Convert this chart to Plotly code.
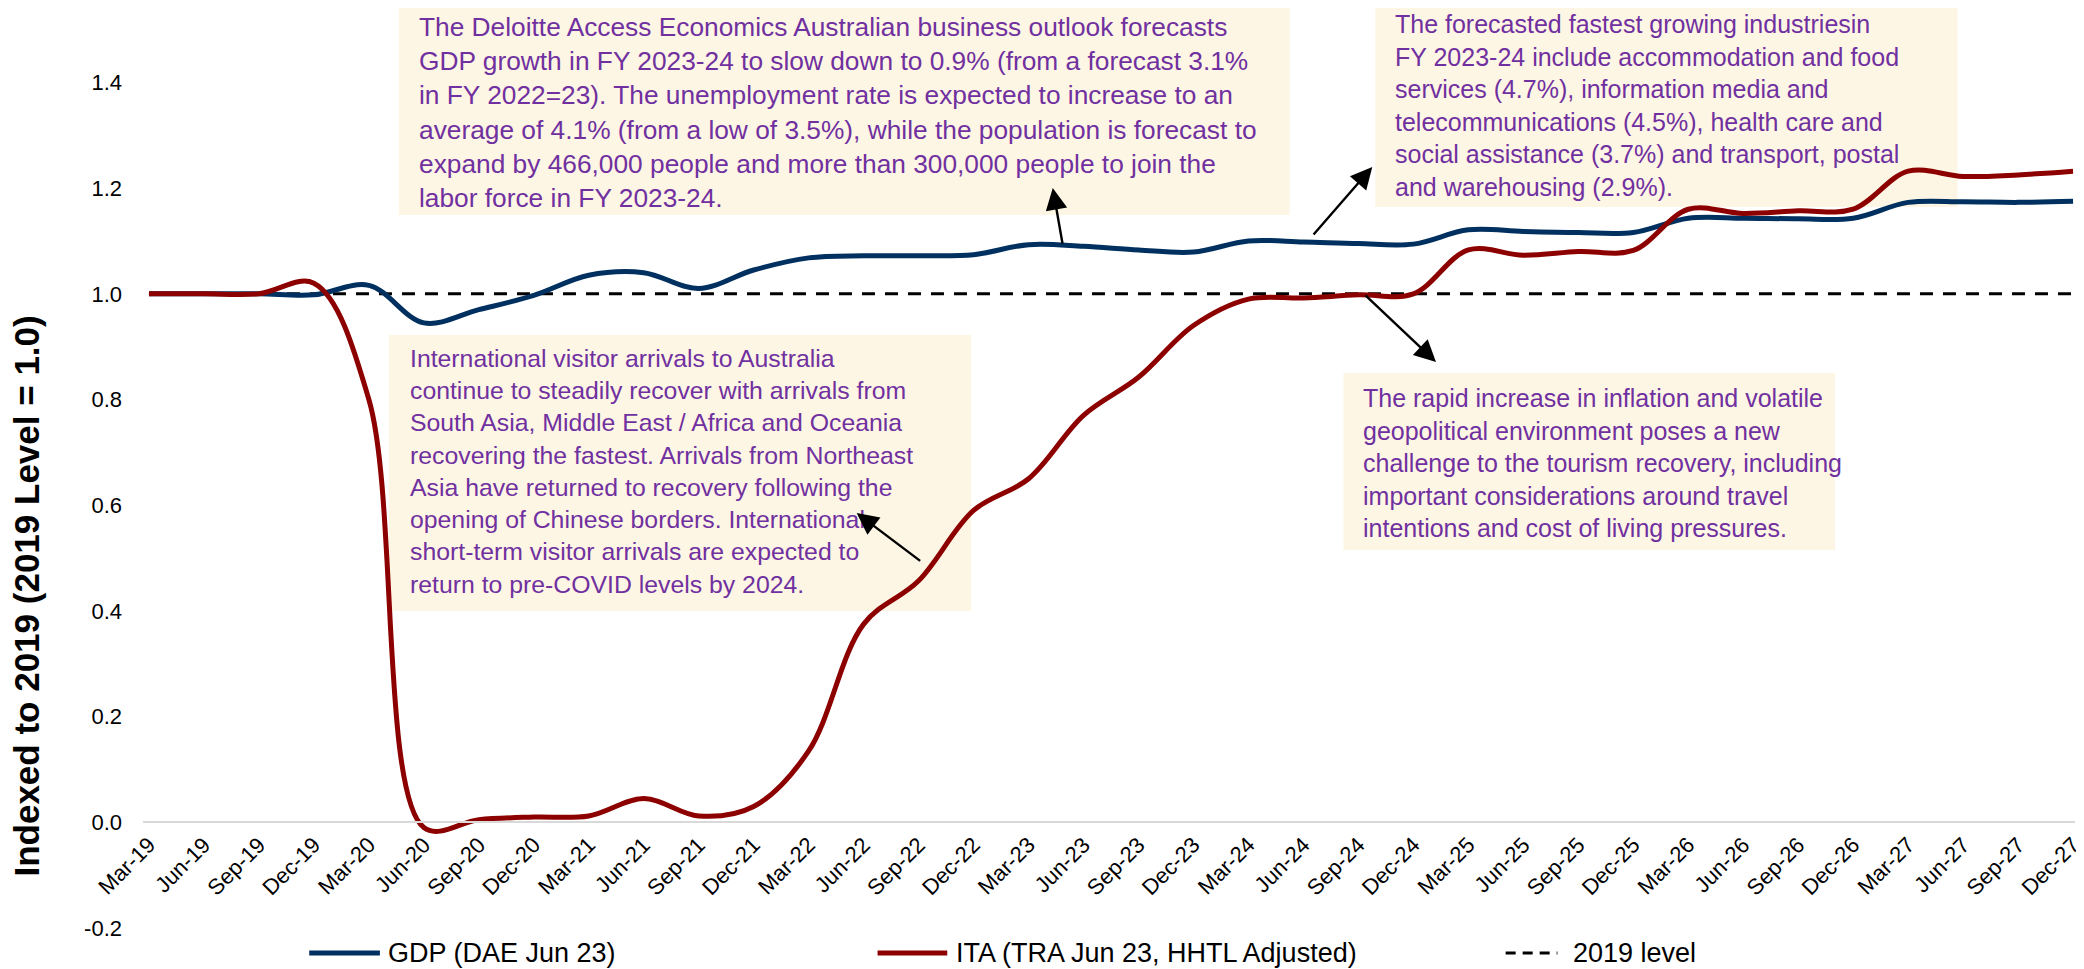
import plotly.graph_objects as go

# ---------------- data ----------------
quarters = ["Mar-19", "Jun-19", "Sep-19", "Dec-19", "Mar-20", "Jun-20", "Sep-20", "Dec-20",
            "Mar-21", "Jun-21", "Sep-21", "Dec-21", "Mar-22", "Jun-22", "Sep-22", "Dec-22",
            "Mar-23", "Jun-23", "Sep-23", "Dec-23", "Mar-24", "Jun-24", "Sep-24", "Dec-24",
            "Mar-25", "Jun-25", "Sep-25", "Dec-25", "Mar-26", "Jun-26", "Sep-26", "Dec-26",
            "Mar-27", "Jun-27", "Sep-27", "Dec-27"]

gdp = [1.000, 1.000, 1.000, 0.998, 1.016, 0.945, 0.970, 0.997,
       1.035, 1.040, 1.010, 1.045, 1.068, 1.072, 1.072, 1.074,
       1.093, 1.090, 1.083, 1.079, 1.100, 1.098, 1.095, 1.094,
       1.121, 1.118, 1.116, 1.116, 1.143, 1.143, 1.142, 1.143,
       1.173, 1.174, 1.173, 1.175]

ita = [1.000, 1.000, 1.000, 1.020, 0.800, -0.010, 0.005, 0.010,
       0.012, 0.045, 0.012, 0.030, 0.135, 0.375, 0.457, 0.590,
       0.650, 0.770, 0.842, 0.940, 0.990, 0.992, 0.998, 1.000,
       1.083, 1.073, 1.080, 1.082, 1.160, 1.152, 1.157, 1.160,
       1.232, 1.222, 1.225, 1.232]

level_2019 = [1.0] * len(quarters)

y_ticks = [-0.2, 0.0, 0.2, 0.4, 0.6, 0.8, 1.0, 1.2, 1.4]

series_names = ["GDP (DAE Jun 23)", "ITA (TRA Jun 23, HHTL Adjusted)", "2019 level"]
y_title = "Indexed to 2019 (2019 Level = 1.0)"

note_top = ("The Deloitte Access Economics Australian business outlook forecasts<br>"
            "GDP growth in FY 2023-24 to slow down to 0.9% (from a forecast 3.1%<br>"
            "in FY 2022=23). The unemployment rate is expected to increase to an<br>"
            "average of 4.1% (from a low of 3.5%), while the population is forecast to<br>"
            "expand by 466,000 people and more than 300,000 people to join the<br>"
            "labor force in FY 2023-24.")
note_top_right = ("The forecasted fastest growing industriesin<br>"
                  "FY 2023-24 include accommodation and food<br>"
                  "services (4.7%), information media and<br>"
                  "telecommunications (4.5%), health care and<br>"
                  "social assistance (3.7%) and transport, postal<br>"
                  "and warehousing (2.9%).")
note_left = ("International visitor arrivals to Australia<br>"
             "continue to steadily recover with arrivals from<br>"
             "South Asia, Middle East / Africa and Oceania<br>"
             "recovering the fastest. Arrivals from Northeast<br>"
             "Asia have returned to recovery following the<br>"
             "opening of Chinese borders. International<br>"
             "short-term visitor arrivals are expected to<br>"
             "return to pre-COVID levels by 2024.")
note_right = ("The rapid increase in inflation and volatile<br>"
              "geopolitical environment poses a new<br>"
              "challenge to the tourism recovery, including<br>"
              "important considerations around travel<br>"
              "intentions and cost of living pressures.")

# ---------------- styling / layout helpers ----------------
OFF = 8                      # page body margin of the browser
W, H = 2084 - OFF, 969 - OFF
L, R, T, B = 135, 0, 0, 41
PW, PH = W - L - R, H - T - B
BLUE = "#00305F"
RED = "#8C0000"
PURPLE = "#7030A0"
CREAM = "#FEF6E4"
BASE_FONT = "Liberation Sans, Arial, sans-serif"

x_idx = list(range(len(quarters)))
px_per_unit = 55.23
x_min = -6 / px_per_unit
x_max = x_min + PW / px_per_unit
y_min = -0.2
px_per_y = (PH - 74.4) / 1.6
y_max = 1.4 + 74.4 / px_per_y


def pxx(sx):
    """screen x pixel -> paper fraction"""
    return (sx - OFF - L) / PW


def pxy(sy):
    """screen y pixel -> paper fraction"""
    return 1 - (sy - OFF - T) / PH


fig = go.Figure()
fig.add_trace(go.Scatter(x=x_idx, y=level_2019, mode="lines", name=series_names[2],
                         line=dict(color="black", width=3, dash="13px,10px"),
                         hoverinfo="skip"))
fig.add_trace(go.Scatter(x=x_idx, y=gdp, mode="lines", name=series_names[0],
                         line=dict(color=BLUE, width=5, shape="spline", smoothing=1.0)))
fig.add_trace(go.Scatter(x=x_idx, y=ita, mode="lines", name=series_names[1],
                         line=dict(color=RED, width=5, shape="spline", smoothing=1.0)))

shapes = []
annotations = []

# note boxes (screen pixel coordinates -> paper)
boxes = [
    (400, 1295, 3, 215, 420, 112.0, note_top, 26.3),
    (1381, 1966, 0, 207, 1401, 106.0, note_top_right, 25.0),
    (390, 975, 335, 611, 411, 471.8, note_left, 24.8),
    (1349, 1843, 373, 550, 1369, 462.5, note_right, 25.0),
]
for x0, x1, y0, y1, tx, ty, txt, fs in boxes:
    shapes.append(dict(type="rect", xref="paper", yref="paper", layer="below",
                       x0=pxx(x0), x1=pxx(x1), y0=pxy(y1), y1=pxy(y0),
                       fillcolor=CREAM, line=dict(width=0)))
    annotations.append(dict(xref="paper", yref="paper", x=pxx(tx), y=pxy(ty),
                            xanchor="left", yanchor="middle", align="left",
                            showarrow=False, text=txt, borderpad=0, borderwidth=0,
                            font=dict(family=BASE_FONT, size=fs, color=PURPLE)))

# arrows: head (hx, hy) in screen px, tail offset (ax, ay) in pixels
arrows = [
    (1057, 188, 10, 57),
    (1378, 167, -60, 69),
    (1442, 362, -72, -68),
    (860, 513, 65, 49),
]
for hx, hy, ax, ay in arrows:
    annotations.append(dict(xref="paper", yref="paper", x=pxx(hx), y=pxy(hy),
                            ax=ax, ay=ay, text="", showarrow=True, arrowhead=2,
                            arrowsize=1.8, arrowwidth=2.4, arrowcolor="black", standoff=0))

# y-axis title
annotations.append(dict(xref="paper", yref="paper", x=pxx(25), y=pxy(596),
                        xanchor="center", yanchor="middle", showarrow=False,
                        text="<b>" + y_title + "</b>", textangle=-90,
                        font=dict(family=BASE_FONT, size=35, color="black")))

# manual legend
legend_items = [
    (310, 381, 387, series_names[0], BLUE, "solid", 5),
    (881, 951, 958, series_names[1], RED, "solid", 5),
    (1512, 1564, 1578, series_names[2], "black", "dash", 3),
]
ly = 953
for lx0, lx1, tx, name, col, dash, wdt in legend_items:
    shapes.append(dict(type="line", xref="paper", yref="paper",
                       x0=pxx(lx0), x1=pxx(lx1), y0=pxy(ly), y1=pxy(ly),
                       line=dict(color=col, width=wdt, dash="10px,7px" if dash == "dash" else "solid")))
    annotations.append(dict(xref="paper", yref="paper", x=pxx(tx), y=pxy(ly),
                            xanchor="left", yanchor="middle", showarrow=False,
                            text=name, font=dict(family=BASE_FONT, size=27, color="black")))

fig.update_layout(
    width=W, height=H,
    margin=dict(l=L, r=R, t=T, b=B, pad=0),
    paper_bgcolor="white", plot_bgcolor="white",
    showlegend=False,
    font=dict(family=BASE_FONT, color="black"),
    shapes=shapes,
    annotations=annotations,
    xaxis=dict(range=[x_min, x_max], tickmode="array", tickvals=x_idx, ticktext=quarters,
               tickangle=-45, showgrid=False, zeroline=False, showline=True,
               linecolor="#D9D9D9", linewidth=2, ticks="", anchor="free",
               position=(0 - y_min) / (y_max - y_min), ticklabeloverflow="allow",
               tickfont=dict(family=BASE_FONT, size=22, color="black")),
    yaxis=dict(range=[y_min, y_max], tickmode="array", tickvals=y_ticks,
               ticktext=[f"{v:.1f}" for v in y_ticks], showgrid=False, zeroline=False,
               showline=False, ticks="", ticklabelstandoff=20,
               tickfont=dict(family=BASE_FONT, size=22, color="black")),
)

fig.write_html("out.html")
